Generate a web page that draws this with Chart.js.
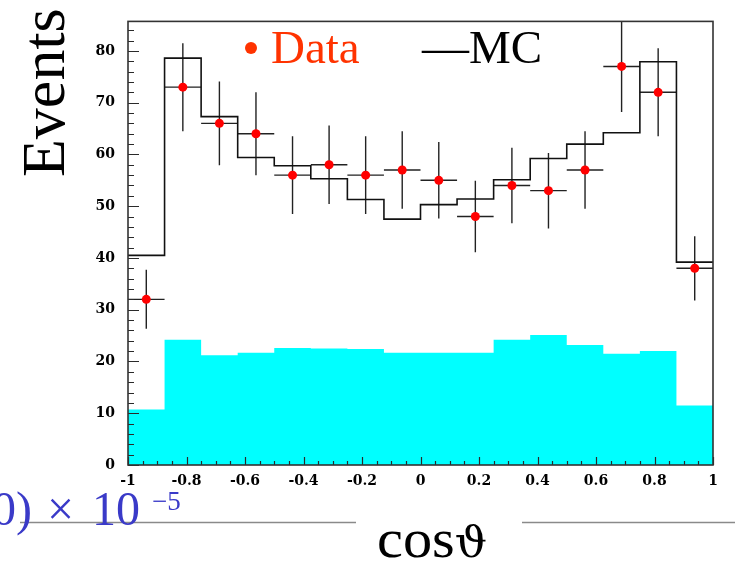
<!DOCTYPE html>
<html>
<head>
<meta charset="utf-8">
<script src="https://cdn.jsdelivr.net/npm/chart.js@4.4.1/dist/chart.umd.min.js"></script>
<style>
  html, body { margin: 0; padding: 0; background: #fff; }
</style>
</head>
<body>
<canvas id="grafica" width="735" height="570"></canvas>
<script>
// 16 bins in cos(theta)
const binEdges   = [-1, -0.875, -0.75, -0.625, -0.5, -0.375, -0.25, -0.125, 0, 0.125, 0.25, 0.375, 0.5, 0.625, 0.75, 0.875, 1];
const binCenters = [-0.9375, -0.8125, -0.6875, -0.5625, -0.4375, -0.3125, -0.1875, -0.0625, 0.0625, 0.1875, 0.3125, 0.4375, 0.5625, 0.6875, 0.8125, 0.9375];

// measured events and their errors
const dataEvents = [32, 73, 66, 64, 56, 58, 56, 57, 55, 48, 54, 53, 57, 77, 72, 38];
const dataErrors = [5.7, 8.5, 8.1, 8.0, 7.5, 7.6, 7.5, 7.5, 7.4, 6.9, 7.3, 7.3, 7.5, 8.8, 8.5, 6.2];

// MC expectation (black histogram) and background (cyan)
const mcEvents  = [40.5, 78.6, 67.3, 59.4, 57.8, 55.3, 51.3, 47.5, 50.3, 51.4, 55.1, 59.2, 62.0, 64.2, 77.9, 39.2];
const bkgEvents = [10.7, 24.2, 21.2, 21.7, 22.6, 22.5, 22.4, 21.7, 21.7, 21.7, 24.2, 25.1, 23.2, 21.5, 22.0, 11.5];

// axis ticks
const xTicks = [-1, -0.8, -0.6, -0.4, -0.2, 0, 0.2, 0.4, 0.6, 0.8, 1];
const xTickLabels = ['-1', '-0.8', '-0.6', '-0.4', '-0.2', '0', '0.2', '0.4', '0.6', '0.8', '1'];
const yTicks = [0, 10, 20, 30, 40, 50, 60, 70, 80];
const yTickLabels = ['0', '10', '20', '30', '40', '50', '60', '70', '80'];

// histogram as step line: one point per left edge, last value repeated at the right edge
function histo(vals) {
  return binEdges.map((x, i) => ({ x: x, y: vals[Math.min(i, vals.length - 1)] }));
}

const fuente = 'Liberation Serif';

// error bars (vertical = stat error, horizontal = bin width)
const errorBars = {
  id: 'errorBars',
  beforeDatasetsDraw(chart) {
    const ctx = chart.ctx, x = chart.scales.x, y = chart.scales.y, a = chart.chartArea;
    ctx.save();
    ctx.beginPath();
    ctx.rect(a.left, a.top, a.right - a.left, a.bottom - a.top);
    ctx.clip();
    ctx.strokeStyle = '#222';
    ctx.lineWidth = 1.4;
    for (let i = 0; i < dataEvents.length; i++) {
      const px = x.getPixelForValue(binCenters[i]);
      const py = y.getPixelForValue(dataEvents[i]);
      ctx.beginPath();
      ctx.moveTo(px, y.getPixelForValue(dataEvents[i] + dataErrors[i]));
      ctx.lineTo(px, y.getPixelForValue(dataEvents[i] - dataErrors[i]));
      ctx.moveTo(x.getPixelForValue(binEdges[i]), py);
      ctx.lineTo(x.getPixelForValue(binEdges[i + 1]), py);
      ctx.stroke();
    }
    ctx.restore();
  }
};

// frame with inward ticks, titles and legend
const marco = {
  id: 'marco',
  afterDatasetsDraw(chart) {
    const ctx = chart.ctx, x = chart.scales.x, y = chart.scales.y, a = chart.chartArea;
    ctx.save();
    ctx.strokeStyle = '#2a2a2a';
    ctx.lineWidth = 1.2;
    ctx.beginPath();
    for (let v = 0; v <= y.max; v += 2) {
      const py = Math.round(y.getPixelForValue(v)) + 0.5;
      const len = (v % 10 === 0) ? 11 : 6;
      ctx.moveTo(a.left, py);
      ctx.lineTo(a.left + len, py);
    }
    for (let k = 0; k <= 40; k++) {
      const px = Math.round(x.getPixelForValue(-1 + k * 0.05)) + 0.5;
      const len = (k % 4 === 0) ? 8 : 4;
      ctx.moveTo(px, a.bottom);
      ctx.lineTo(px, a.bottom - len);
    }
    ctx.stroke();
    ctx.lineWidth = 1.6;
    ctx.strokeStyle = '#333';
    ctx.strokeRect(a.left, a.top, a.right - a.left, a.bottom - a.top);
    ctx.restore();
  },
  afterDraw(chart) {
    const ctx = chart.ctx;
    ctx.save();
    // y title
    ctx.fillStyle = '#000';
    ctx.font = '62px "' + fuente + '"';
    ctx.textAlign = 'left';
    ctx.textBaseline = 'alphabetic';
    ctx.translate(64, 177);
    ctx.rotate(-Math.PI / 2);
    ctx.fillText('Events', 0, 0);
    ctx.restore();

    ctx.save();
    // legend
    ctx.fillStyle = '#ff3300';
    ctx.beginPath();
    ctx.arc(251, 48, 6, 0, Math.PI * 2);
    ctx.fill();
    ctx.font = '47px "' + fuente + '"';
    ctx.textBaseline = 'alphabetic';
    ctx.fillText('Data', 271, 63);
    ctx.fillStyle = '#000';
    ctx.fillText('\u2014MC', 422, 63);

    // rules beside the x title
    ctx.strokeStyle = '#8a8a8a';
    ctx.lineWidth = 1.5;
    ctx.beginPath();
    ctx.moveTo(20, 522.5); ctx.lineTo(356, 522.5);
    ctx.moveTo(522, 522.5); ctx.lineTo(735, 522.5);
    ctx.stroke();

    ctx.fillStyle = '#3a3ac8';
    ctx.font = '48px "' + fuente + '"';
    ctx.fillText('0)', -8, 525);
    ctx.fillText('\u00d7', 47, 525);
    ctx.fillText('10', 92, 525);
    ctx.font = '27px "' + fuente + '"';
    ctx.fillText('\u22125', 152, 510);
    ctx.restore();

    // x title: cos + vartheta
    ctx.save();
    ctx.fillStyle = '#000';
    ctx.textBaseline = 'alphabetic';
    ctx.translate(377, 557);
    ctx.scale(1.08, 1);
    ctx.font = '54px "' + fuente + '"';
    ctx.fillText('cos', 0, 0);
    const w = ctx.measureText('cos').width;
    ctx.font = '42px "DejaVu Serif"';
    ctx.fillText('\u03d1', w, 0);
    ctx.restore();
  }
};

const ctx = document.getElementById('grafica').getContext('2d');

const tickFont = { family: 'DejaVu Serif', size: 14, weight: 'bold' };

const chart = new Chart(ctx, {
  data: {
    datasets: [{
      type: 'scatter',
      label: 'Data',
      data: binCenters.map((x, i) => ({ x: x, y: dataEvents[i] })),
      pointRadius: 4.5,
      pointHoverRadius: 4.5,
      pointBackgroundColor: '#ff0000',
      pointBorderWidth: 0,
      order: 0
    }, {
      type: 'line',
      label: 'MC',
      data: histo(mcEvents),
      stepped: 'before',
      borderColor: '#111',
      borderWidth: 1.6,
      pointRadius: 0,
      fill: false,
      order: 1
    }, {
      type: 'line',
      label: 'bkg',
      data: histo(bkgEvents),
      stepped: 'before',
      borderWidth: 0,
      borderColor: 'rgba(0,0,0,0)',
      backgroundColor: '#00ffff',
      pointRadius: 0,
      fill: 'origin',
      order: 2
    }]
  },
  options: {
    responsive: false,
    animation: false,
    devicePixelRatio: 1,
    layout: { padding: { top: 13, right: 22, left: 0, bottom: 0 } },
    plugins: { legend: { display: false }, tooltip: { enabled: false } },
    events: [],
    scales: {
      x: {
        type: 'linear',
        min: -1,
        max: 1,
        grid: { display: false, drawTicks: false },
        border: { display: false },
        afterBuildTicks: s => { s.ticks = xTicks.map(v => ({ value: v })); },
        afterFit: s => { s.height = 105; },
        ticks: {
          autoSkip: false,
          maxRotation: 0,
          padding: 8,
          color: '#000',
          font: tickFont,
          callback: (v, i) => xTickLabels[i]
        }
      },
      y: {
        type: 'linear',
        min: 0,
        max: 85.7,
        grid: { display: false, drawTicks: false },
        border: { display: false },
        afterBuildTicks: s => { s.ticks = yTicks.map(v => ({ value: v })); },
        afterFit: s => { s.width = 128; },
        ticks: {
          padding: 13,
          color: '#000',
          font: tickFont,
          callback: (v, i) => yTickLabels[i]
        }
      }
    }
  },
  plugins: [errorBars, marco]
});
</script>
</body>
</html>
